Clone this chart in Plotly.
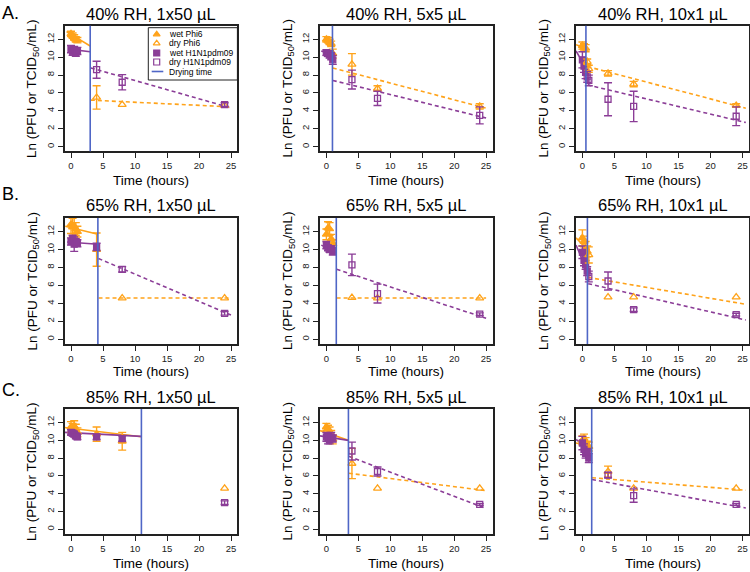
import plotly.graph_objects as go

W, H = 750, 572
FONT = "Liberation Sans, Arial, sans-serif"
ORANGE = "#FFA31A"
PURPLE = "#8B3D97"
BLUE = "#4F66C6"

panel_titles = ["40% RH, 1x50 µL", "40% RH, 5x5 µL", "40% RH, 10x1 µL",
                "65% RH, 1x50 µL", "65% RH, 5x5 µL", "65% RH, 10x1 µL",
                "85% RH, 1x50 µL", "85% RH, 5x5 µL", "85% RH, 10x1 µL"]
row_labels = ["A.", "B.", "C."]
x_ticks = [0, 5, 10, 15, 20, 25]
y_ticks = [0, 2, 4, 6, 8, 10, 12]
legend_labels = ["wet Phi6", "dry Phi6", "wet H1N1pdm09", "dry H1N1pdm09", "Drying time"]

# drying time (hours) per panel A1..C3
drying_time = [3.0, 0.95, 0.55, 4.2, 1.55, 0.78, 11.0, 3.45, 1.45]

# wet-phase sampling times and values
wet_t = [
    [0, 0.25, 0.5, 0.75, 1],
    [0, 0.25, 0.5, 0.75, 1],
    [0, 0.25, 0.5],
    [0, 0.25, 0.5, 0.75, 1, 4],
    [0, 0.25, 0.5, 0.75, 1],
    [0, 0.25, 0.5, 0.75],
    [0, 0.25, 0.5, 0.75, 1, 4, 8],
    [0, 0.25, 0.5, 0.75, 1],
    [0, 0.25, 0.5, 0.75, 1],
]
wet_phi6 = [
    [12.6, 12.4, 12.2, 12.0, 11.9],
    [12.0, 11.9, 11.7, 11.5, 10.4],
    [11.3, 11.1, 11.0],
    [12.8, 12.5, 12.6, 12.3, 12.0, 10.0],
    [11.7, 12.4, 12.3, 11.2, 10.6],
    [11.3, 10.9, 10.2, 9.8],
    [11.5, 11.3, 11.6, 11.2, 10.9, 10.7, 9.9],
    [11.5, 11.3, 11.0, 10.6, 10.1],
    [10.0, 10.2, 9.8, 9.4, 9.3],
]
wet_phi6_err = [
    [0.3, 0.3, 0.3, 0.3, 0.3],
    [0.3, 0.3, 0.3, 0.3, 0.5],
    [0.4, 0.4, 0.4],
    [1.0, 1.0, 1.0, 0.7, 0.6, 1.85],
    [0.6, 0.7, 0.7, 0.5, 0.5],
    [0.9, 0.6, 0.7, 0.6],
    [0.6, 0.6, 0.6, 0.6, 0.5, 0.8, 1.0],
    [0.4, 0.4, 0.5, 0.5, 0.5],
    [0.5, 0.5, 0.5, 0.5, 0.5],
]
wet_h1n1 = [
    [10.9, 10.6, 10.7, 10.5, 10.7],
    [10.5, 10.4, 10.3, 10.1, 9.7],
    [9.7, 9.0, 8.3],
    [10.9, 11.2, 10.6, 10.8, 10.7, 10.3],
    [10.5, 10.2, 10.0, 10.1, 9.8],
    [9.7, 8.8, 8.3, 7.6],
    [10.9, 10.8, 10.7, 10.5, 10.4, 10.4, 10.2],
    [10.4, 10.2, 10.1, 10.4, 10.2],
    [9.7, 9.0, 8.5, 8.7, 8.0],
]
wet_h1n1_err = [
    [0.4, 0.4, 0.5, 0.4, 0.4],
    [0.3, 0.3, 0.4, 0.4, 0.5],
    [0.9, 0.7, 0.7],
    [0.4, 0.4, 0.8, 0.4, 0.4, 0.4],
    [0.4, 0.3, 0.3, 0.3, 0.4],
    [0.7, 0.6, 0.5, 0.5],
    [0.3, 0.3, 0.3, 0.3, 0.3, 0.3, 0.3],
    [0.5, 0.6, 0.5, 0.5, 0.4],
    [0.75, 0.6, 0.5, 0.4, 0.5],
]

# dry-phase sampling times and values
dry_t = [
    [4, 8, 24],
    [4, 8, 24],
    [0.75, 1, 4, 8, 24],
    [8, 24],
    [4, 8, 24],
    [1, 4, 8, 24],
    [24],
    [4, 8, 24],
    [4, 8, 24],
]
dry_phi6 = [
    [5.5, 4.7, 4.6],
    [9.2, 6.5, 4.5],
    [9.5, 8.7, 8.2, 7.0, 4.6],
    [4.6, 4.6],
    [4.65, 4.6, 4.6],
    [9.4, 4.7, 4.7, 4.7],
    [4.6],
    [7.4, 4.6, 4.6],
    [6.5, 4.6, 4.6],
]
dry_phi6_err = [
    [1.3, None, None],
    [1.2, 0.3, 0.3],
    [0.3, 0.4, 0.3, 0.3, 0.2],
    [None, None],
    [None, None, None],
    [0.9, None, None, None],
    [None],
    [1.7, None, None],
    [0.6, None, None],
]
dry_h1n1 = [
    [8.6, 7.2, 4.7],
    [7.5, 5.4, 3.5],
    [7.8, 7.4, 5.3, 4.5, 3.4],
    [7.8, 2.9],
    [8.3, 5.1, 2.8],
    [7.0, 6.5, 3.3, 2.75],
    [3.0],
    [8.8, 6.5, 2.8],
    [6.1, 3.8, 2.8],
]
dry_h1n1_err = [
    [0.95, 0.85, 0.2],
    [1.05, 0.8, 0.95],
    [0.6, 0.6, 1.85, 1.7, 1.05],
    [0.3, 0.2],
    [1.2, 1.05, 0.15],
    [0.6, 1.0, 0.2, 0.15],
    [0.2],
    [1.0, 0.5, 0.1],
    [0.3, 0.75, 0.1],
]

# fitted decay lines (end points)
wet_fit_phi6_x = [[-0.7, 3.0], [-0.3, 0.95], [-1, 0.55], [-0.9, 4.2], [0, 1.55],
                  [-1, 0.78], [-1, 11.0], [-1, 3.45], [-1, 1.45]]
wet_fit_phi6_y = [[12.85, 11.25], [12.1, 11.55], [11.4, 11.0], [12.6, 11.7], [11.9, 10.6],
                  [11.3, 10.0], [11.45, 10.4], [11.1, 10.0], [9.7, 9.3]]
wet_fit_h1n1_x = [[-0.4, 3.0], [-0.8, 0.95], [-1, 0.55], [-0.6, 4.2], [-0.8, 1.55],
                  [-1, 0.78], [-1, 11.0], [-1, 3.45], [-1, 1.45]]
wet_fit_h1n1_y = [[10.9, 10.6], [10.7, 10.25], [10.7, 8.8], [10.85, 10.6], [10.5, 9.7],
                  [10.5, 7.6], [10.9, 10.45], [10.5, 10.0], [10.1, 8.9]]
dry_fit_x = [[3.1, 24.9], [1.0, 25], [0.8, 25.5], [4.3, 25], [1.6, 25],
             [0.9, 25.5], [], [3.5, 25], [1.5, 25.5]]
dry_fit_phi6_y = [[5.2, 4.45], [8.8, 4.3], [8.95, 4.3], [4.6, 4.6], [4.6, 4.6],
                  [6.9, 3.9], [], [6.3, 4.35], [5.8, 4.4]]
dry_fit_h1n1_y = [[8.8, 4.35], [7.4, 3.2], [6.9, 2.7], [9.0, 2.7], [7.8, 2.35],
                  [6.2, 2.15], [], [8.2, 2.35], [5.6, 2.4]]

# ---------------- layout geometry (pixels) ----------------
col_dom = [(64.6, 237.4), (320.0, 492.5), (576.0, 749.0)]
row_dom = [(25.7, 151.3), (218.0, 344.0), (409.0, 534.0)]
x_range = [-1, 26]
y_range = [-0.52, 13.52]
title_y = [13.5, 205, 397]
xtitle_y = [180.5, 371.5, 563]
label_y = [12.5, 194, 390]


def px(x):
    return x / W


def py(y):
    return 1 - y / H


fig = go.Figure()
layout = dict(
    width=W, height=H, margin=dict(l=0, r=0, t=0, b=0),
    plot_bgcolor="rgba(0,0,0,0)", paper_bgcolor="white", showlegend=False,
    font=dict(family=FONT, color="black"),
)
shapes = []
annotations = []

for i in range(9):
    r, c = divmod(i, 3)
    n = i + 1
    xr = "x" if n == 1 else f"x{n}"
    yr = "y" if n == 1 else f"y{n}"
    xa = "xaxis" if n == 1 else f"xaxis{n}"
    ya = "yaxis" if n == 1 else f"yaxis{n}"
    common = dict(ticks="outside", ticklen=5, tickwidth=1, tickcolor="#222",
                  showline=True, mirror=True, linecolor="#222", linewidth=1.5,
                  showgrid=False, zeroline=False,
                  tickfont=dict(size=9.5, color="#222", family=FONT))
    layout[xa] = dict(domain=[px(col_dom[c][0]), px(col_dom[c][1])], range=x_range,
                      anchor=yr, tickvals=x_ticks, **common)
    layout[ya] = dict(domain=[py(row_dom[r][1]), py(row_dom[r][0])], range=y_range,
                      anchor=xr, tickvals=y_ticks, tickangle=-90, **common)

    # fit lines
    fig.add_trace(go.Scatter(x=wet_fit_phi6_x[i], y=wet_fit_phi6_y[i], mode="lines",
                             line=dict(color=ORANGE, width=1.6), xaxis=xr, yaxis=yr))
    fig.add_trace(go.Scatter(x=wet_fit_h1n1_x[i], y=wet_fit_h1n1_y[i], mode="lines",
                             line=dict(color=PURPLE, width=1.6), xaxis=xr, yaxis=yr))
    fig.add_trace(go.Scatter(x=dry_fit_x[i], y=dry_fit_phi6_y[i], mode="lines",
                             line=dict(color=ORANGE, width=1.6, dash="4px,3px"), xaxis=xr, yaxis=yr))
    fig.add_trace(go.Scatter(x=dry_fit_x[i], y=dry_fit_h1n1_y[i], mode="lines",
                             line=dict(color=PURPLE, width=1.6, dash="4px,3px"), xaxis=xr, yaxis=yr))

    series = [
        (wet_t[i], wet_phi6[i], wet_phi6_err[i], ORANGE, "triangle-up", 7),
        (wet_t[i], wet_h1n1[i], wet_h1n1_err[i], PURPLE, "square", 6),
        (dry_t[i], dry_phi6[i], dry_phi6_err[i], ORANGE, "triangle-up-open", 7),
        (dry_t[i], dry_h1n1[i], dry_h1n1_err[i], PURPLE, "square-open", 6),
    ]
    for t, v, e, col, sym, sz in series:
        et = [a for a, b in zip(t, e) if b is not None]
        ev = [a for a, b in zip(v, e) if b is not None]
        ee = [b for b in e if b is not None]
        if et:
            fig.add_trace(go.Scatter(x=et, y=ev, mode="markers",
                                     marker=dict(size=1, opacity=0),
                                     error_y=dict(type="data", array=ee, color=col,
                                                  thickness=1.4, width=4),
                                     xaxis=xr, yaxis=yr))
        fig.add_trace(go.Scatter(x=t, y=v, mode="markers",
                                 marker=dict(symbol=sym, size=sz, color=col,
                                             line=dict(color=col, width=1.3)),
                                 xaxis=xr, yaxis=yr))

    shapes.append(dict(type="line", xref=xr, yref=f"{yr} domain",
                       x0=drying_time[i], x1=drying_time[i], y0=0, y1=1,
                       line=dict(color=BLUE, width=1.6), layer="above"))

    cx = (col_dom[c][0] + col_dom[c][1]) / 2
    cy = (row_dom[r][0] + row_dom[r][1]) / 2
    annotations.append(dict(text=panel_titles[i], x=cx, y=title_y[r], xref="x10", yref="y10",
                            showarrow=False, xanchor="center", yanchor="middle",
                            font=dict(size=16.5, color="black", family=FONT)))
    annotations.append(dict(text="Time (hours)", x=cx, y=xtitle_y[r], xref="x10", yref="y10",
                            showarrow=False, xanchor="center", yanchor="middle",
                            font=dict(size=13.5, color="black", family=FONT)))
    annotations.append(dict(text="Ln (PFU or TCID<sub>50</sub>/mL)", x=col_dom[c][0] - 32, y=cy,
                            xref="x10", yref="y10", textangle=-90,
                            showarrow=False, xanchor="center", yanchor="middle",
                            font=dict(size=13.5, color="black", family=FONT)))

for r in range(3):
    annotations.append(dict(text=row_labels[r], x=0, y=label_y[r], xref="x10", yref="y10",
                            showarrow=False, xanchor="left", yanchor="middle",
                            font=dict(size=18, color="black", family=FONT)))

# pixel overlay axis for legend and labels
layout["xaxis10"] = dict(domain=[0, 1], range=[0, W], visible=False, anchor="y10", fixedrange=True)
layout["yaxis10"] = dict(domain=[0, 1], range=[H, 0], visible=False, anchor="x10", fixedrange=True)

# legend (A panel)
leg_y = [34.3, 43.3, 53.0, 62.0, 71.5]
leg_sym = ["triangle-up", "triangle-up-open", "square", "square-open"]
leg_col = [ORANGE, ORANGE, PURPLE, PURPLE]
shapes.append(dict(type="rect", xref="x10", yref="y10", x0=148.3, x1=237.4, y0=27.7, y1=80,
                   line=dict(color="#222", width=1), fillcolor="rgba(0,0,0,0)", layer="above"))
for k in range(4):
    fig.add_trace(go.Scatter(x=[156.7], y=[leg_y[k]], mode="markers",
                             marker=dict(symbol=leg_sym[k], size=6, color=leg_col[k],
                                         line=dict(color=leg_col[k], width=1.2)),
                             xaxis="x10", yaxis="y10"))
shapes.append(dict(type="line", xref="x10", yref="y10", x0=151.7, x1=163.3,
                   y0=leg_y[4], y1=leg_y[4], line=dict(color=BLUE, width=1.6), layer="above"))
for k in range(5):
    annotations.append(dict(text=legend_labels[k], x=166.7, y=leg_y[k], xref="x10", yref="y10",
                            showarrow=False, xanchor="left", yanchor="middle",
                            font=dict(size=8.5, color="black", family=FONT)))

layout["shapes"] = shapes
layout["annotations"] = annotations
fig.update_layout(**layout)
fig.write_html("out.html", config={"displayModeBar": False},
               post_script="document.body.style.margin='0px';")
